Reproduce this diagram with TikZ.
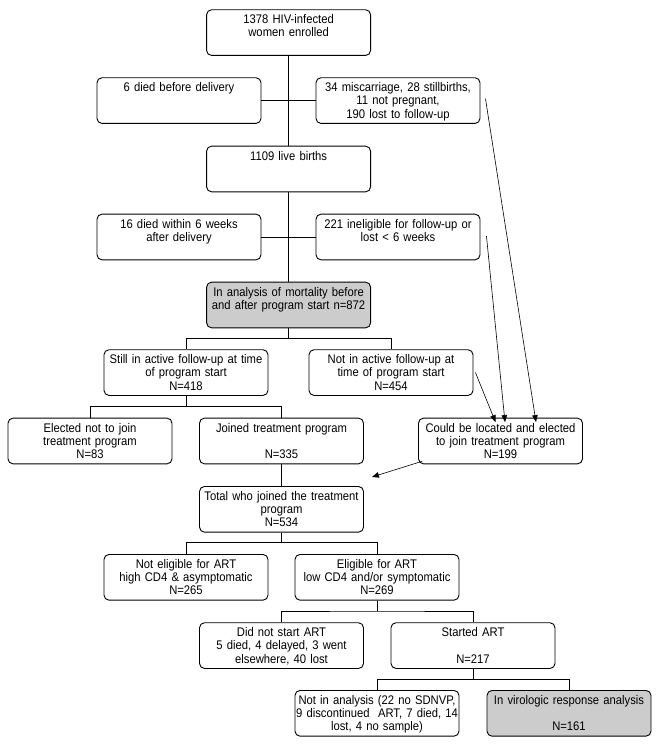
\documentclass[tikz,border=0pt]{standalone}
\usepackage{fontspec}
\setmainfont{Liberation Sans}[FakeStretch=0.9]
\usetikzlibrary{arrows.meta}
\definecolor{box_gray}{RGB}{204, 204, 204}
\tikzstyle{bx}=[draw=black,rounded corners=5pt,line width=0.9pt,fill=white,
  inner sep=0pt,text width=164pt,align=center,text height=13.9pt,text depth=31.8pt,
  font=\fontsize{12.5}{13.3}\selectfont]
\tikzstyle{gbx}=[bx,fill=box_gray]
\tikzstyle{ln}=[line width=0.9pt]
\tikzstyle{arr}=[line width=0.6pt,-{Triangle[length=7pt,width=5.5pt]}]

\begin{document}
\begin{tikzpicture}[x=1pt,y=-1pt]
    \useasboundingbox (0,0) rectangle (657,746);
    \node [style=bx,anchor=north] (enrolled) at (288.6,9.3) {1378 HIV-infected\\women enrolled};
    \node [style=bx,anchor=north] (diedbefore) at (179,77.3) {6 died before delivery};
    \node [style=bx,anchor=north] (miscarr) at (398,77.3) {34 miscarriage, 28 stillbirths,\\11 not pregnant,\\190 lost to follow-up};
    \node [style=bx,anchor=north] (births) at (288.6,145.7) {1109 live births};
    \node [style=bx,anchor=north] (diedweeks) at (179,213.7) {16 died within 6 weeks\\after delivery};
    \node [style=bx,anchor=north] (inelig) at (398,213.7) {221 ineligible for follow-up or\\lost < 6 weeks};
    \node [style=gbx,anchor=north] (mort) at (288.6,281.7) {In analysis of mortality before\\and after program start n=872};
    \node [style=bx,anchor=north] (still) at (186,349.3) {Still in active follow-up at time\\of program start\\N=418};
    \node [style=bx,anchor=north] (notactive) at (391,349.3) {Not in active follow-up at\\time of program start\\N=454};
    \node [style=bx,anchor=north] (elected) at (90,417.7) {Elected not to join\\treatment program\\N=83};
    \node [style=bx,anchor=north] (joined) at (281.5,417.7) {Joined treatment program\\~\\N=335};
    \node [style=bx,anchor=north] (located) at (500.5,417.7) {Could be located and elected\\to join treatment program\\N=199};
    \node [style=bx,anchor=north] (total) at (281.5,486) {Total who joined the treatment\\program\\N=534};
    \node [style=bx,anchor=north] (noteligible) at (186,554) {Not eligible for ART\\high CD4 \& asymptomatic\\N=265};
    \node [style=bx,anchor=north] (eligible) at (377,554) {Eligible for ART\\low CD4 and/or symptomatic\\N=269};
    \node [style=bx,anchor=north] (nostart) at (281.5,622.3) {Did not start ART\\5 died, 4 delayed, 3 went\\elsewhere, 40 lost};
    \node [style=bx,anchor=north] (started) at (473,622.3) {Started ART\\~\\N=217};
    \node [style=bx,anchor=north] (notanalysis) at (377,690) {Not in analysis (22 no SDNVP,\\9 discontinued\ \ ART, 7 died, 14\\lost, 4 no sample)};
    \node [style=gbx,anchor=north] (virologic) at (569,690) {In virologic response analysis\\~\\N=161};
    \coordinate (s1) at (288.6,338.3);
    \coordinate (s2) at (186,406.7);
    \coordinate (s3) at (281.5,542.7);
    \coordinate (s4) at (377,611);
    \coordinate (s5) at (473,679.3);
    \draw [style=ln] (enrolled) to (births);
    \draw [style=ln] (diedbefore) to (miscarr);
    \draw [style=ln] (births) to (mort);
    \draw [style=ln] (diedweeks) to (inelig);
    \draw [style=ln] (mort) to (s1);
    \draw [style=ln] (still.north) |- (s1) -| (notactive.north);
    \draw [style=ln] (still) to (s2);
    \draw [style=ln] (elected.north) |- (s2) -| (joined.north);
    \draw [style=ln] (joined) to (total);
    \draw [style=ln] (total) to (s3);
    \draw [style=ln] (noteligible.north) |- (s3) -| (eligible.north);
    \draw [style=ln] (eligible) to (s4);
    \draw [style=ln] (nostart.north) |- (s4) -| (started.north);
    \draw [style=ln] (started) to (s5);
    \draw [style=ln] (notanalysis.north) |- (s5) -| (virologic.north);
    \draw [style=arr] ([xshift=5pt,yshift=2pt]miscarr.east) to ([xshift=35.5pt,yshift=-4.4pt]located.north);
    \draw [style=arr] ([xshift=6pt,yshift=1pt]inelig.east) to ([xshift=4.5pt,yshift=-4.4pt]located.north);
    \draw [style=arr] ([xshift=2pt]notactive.east) to ([xshift=-5pt,yshift=-4.4pt]located.north);
    \draw [style=arr] ([xshift=4pt,yshift=3pt]located.south west) to ([xshift=8pt,yshift=9pt]total.north east);
\end{tikzpicture}
\end{document}
